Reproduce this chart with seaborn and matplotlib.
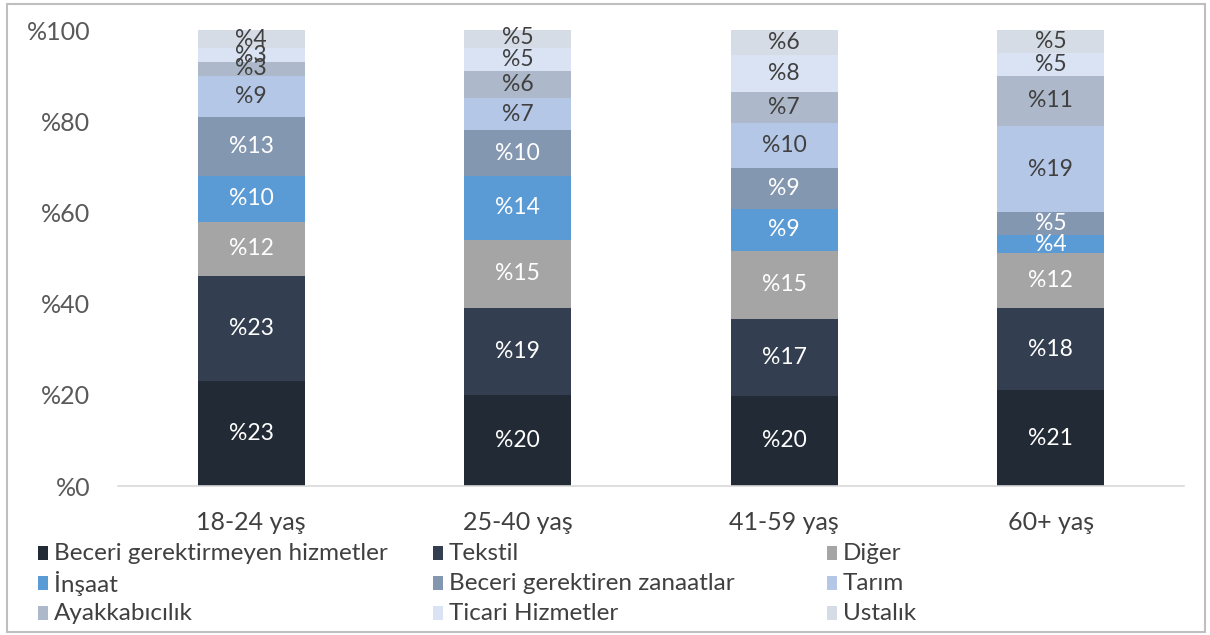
import matplotlib
matplotlib.use("Agg")
import matplotlib.pyplot as plt
from matplotlib.patches import Rectangle
import numpy as np
import seaborn as sns

categories = ["18-24 yaş", "25-40 yaş", "41-59 yaş", "60+ yaş"]
series_names = ["Beceri gerektirmeyen hizmetler", "Tekstil", "Diğer",
                "İnşaat", "Beceri gerektiren zanaatlar", "Tarım",
                "Ayakkabıcılık", "Ticari Hizmetler", "Ustalık"]
beceri_gerektirmeyen = [23, 20, 19.8, 21]
tekstil = [23, 19, 16.8, 18]
diger = [12, 15, 15.0, 12]
insaat = [10, 14, 9.2, 4]
beceri_gerektiren = [13, 10, 9.0, 5]
tarim = [9, 7, 9.9, 19]
ayakkabicilik = [3, 6, 6.8, 11]
ticari = [3, 5, 8.0, 5]
ustalik = [4, 4.6, 5.5, 5]
colors = ["#222a35", "#333f50", "#a5a5a5", "#5b9bd5", "#8497b0",
          "#b4c7e7", "#adb9ca", "#dae3f3", "#d6dce5"]
label_colors = ["white"] * 5 + ["#404040"] * 4
yticks = [0, 20, 40, 60, 80, 100]

series = [beceri_gerektirmeyen, tekstil, diger, insaat, beceri_gerektiren,
          tarim, ayakkabicilik, ticari, ustalik]

sns.set_style("white")
plt.rcParams["font.family"] = ["Lato", "DejaVu Sans"]

W, H = 1210, 635
fig = plt.figure(figsize=(W / 100, H / 100), dpi=100)
ax = fig.add_axes([118 / W, 1 - 486 / H, 1066 / W, 456 / H])

bottom = np.zeros(len(categories))
for vals, col, lc in zip(series, colors, label_colors):
    vals = np.array(vals, dtype=float)
    sns.barplot(x=categories, y=vals, bottom=bottom, color=col, width=0.4,
                saturation=1, ax=ax, linewidth=0)
    for i, (v, b) in enumerate(zip(vals, bottom)):
        ax.text(i, b + v / 2, f"%{int(round(v))}", ha="center", va="center",
                fontsize=16.5, color=lc)
    bottom += vals

ax.set_ylim(0, 100)
ax.set_xlim(-0.5, len(categories) - 0.5)
ax.set_yticks(yticks)
ax.set_yticklabels([f"%{t}" for t in yticks], fontsize=18, color="#595959")
ax.tick_params(axis="x", labelsize=18, colors="#404040", length=0, pad=18)
ax.tick_params(axis="y", length=0, pad=20)
for s in ["top", "right", "left"]:
    ax.spines[s].set_visible(False)
ax.spines["bottom"].set_color("#d9d9d9")
ax.spines["bottom"].set_linewidth(1.2)

# legend laid out as Excel does: three equal columns, filled row by row
col_x = [38, 433, 827]
row_y = [553, 583, 613]
for k, (name, col) in enumerate(zip(series_names, colors)):
    x, y = col_x[k % 3], row_y[k // 3]
    fig.patches.append(Rectangle((x / W, 1 - (y + 7) / H), 10 / W, 14 / H,
                                 transform=fig.transFigure, facecolor=col,
                                 edgecolor="none"))
    fig.text((x + 16) / W, 1 - y / H, name, ha="left", va="center",
             fontsize=17.5, color="#404040")

fig.patches.append(Rectangle((7 / W, 3 / H), 1198 / W, 628 / H,
                             transform=fig.transFigure, fill=False,
                             edgecolor="#bfbfbf", linewidth=1.5))

fig.savefig("out.png", dpi=100)
